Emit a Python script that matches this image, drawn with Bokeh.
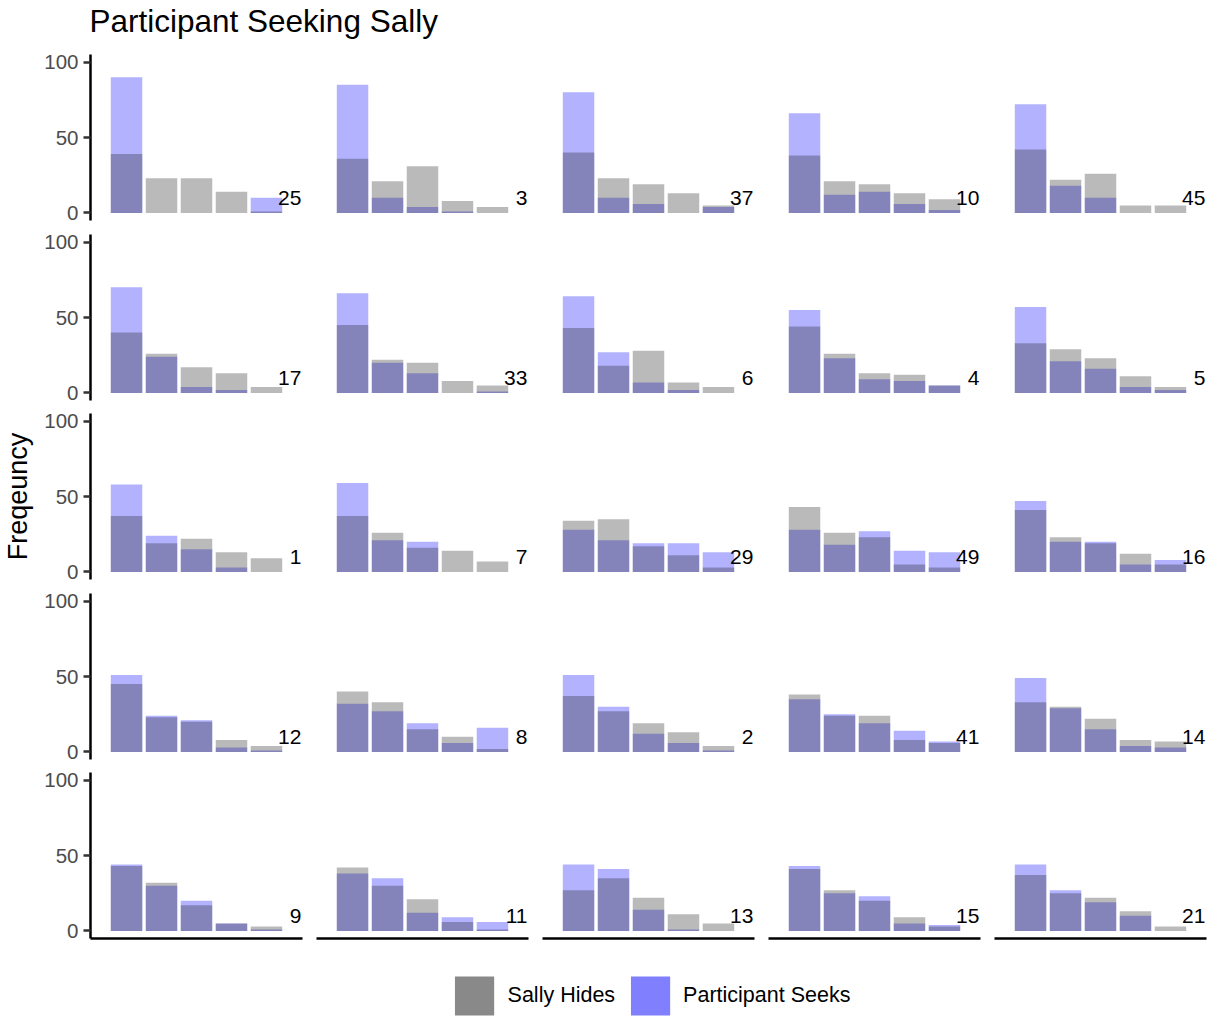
from bokeh.plotting import figure
from bokeh.layouts import gridplot, column
from bokeh.models import Range1d, FixedTicker, Legend, LegendItem
from bokeh.core.properties import value
from bokeh.embed import file_html
from bokeh.resources import INLINE

# ---------------- data ----------------
CHOICES = [1, 2, 3, 4, 5]
PANEL_IDS = [25, 3, 37, 10, 45,
             17, 33, 6, 4, 5,
             1, 7, 29, 49, 16,
             12, 8, 2, 41, 14,
             9, 11, 13, 15, 21]
SALLY_HIDES = [
    [39, 23, 23, 14, 1], [36, 21, 31, 8, 4], [40, 23, 19, 13, 5], [38, 21, 19, 13, 9], [42, 22, 26, 5, 5],
    [40, 26, 17, 13, 4], [45, 22, 20, 8, 5], [43, 18, 28, 7, 4], [44, 26, 13, 12, 5], [33, 29, 23, 11, 4],
    [37, 19, 22, 13, 9], [37, 26, 16, 14, 7], [34, 35, 17, 11, 3], [43, 26, 23, 5, 3], [41, 23, 19, 12, 5],
    [45, 23, 20, 8, 4], [40, 33, 15, 10, 2], [37, 27, 19, 13, 4], [38, 24, 24, 8, 6], [33, 30, 22, 8, 7],
    [43, 32, 17, 5, 3], [42, 30, 21, 6, 1], [27, 35, 22, 11, 5], [41, 27, 20, 9, 3], [37, 25, 22, 13, 3],
]
PARTICIPANT_SEEKS = [
    [90, 0, 0, 0, 10], [85, 10, 4, 1, 0], [80, 10, 6, 0, 4], [66, 12, 14, 6, 2], [72, 18, 10, 0, 0],
    [70, 24, 4, 2, 0], [66, 20, 13, 0, 1], [64, 27, 7, 2, 0], [55, 23, 9, 8, 5], [57, 21, 16, 4, 2],
    [58, 24, 15, 3, 0], [59, 21, 20, 0, 0], [28, 21, 19, 19, 13], [28, 18, 27, 14, 13], [47, 20, 20, 5, 8],
    [51, 24, 21, 3, 1], [32, 27, 19, 6, 16], [51, 30, 12, 6, 1], [35, 25, 19, 14, 7], [49, 29, 15, 4, 3],
    [44, 30, 20, 5, 1], [38, 35, 12, 9, 6], [44, 41, 14, 1, 0], [43, 25, 23, 5, 4], [44, 27, 19, 10, 0],
]
Y_TICKS = [0, 50, 100]
TITLE = "Participant Seeking Sally"
Y_LABEL = "Freqeuncy"
SERIES = ["Sally Hides", "Participant Seeks"]

# ---------------- style ----------------
FONT = "Liberation Sans"
NROW, NCOL = 5, 5
FRAME_W, FRAME_H = 212, 166
LEFT_BORDER = 90
H_GAP = 14
TOP_BORDER = 8
BOTTOM_BORDERS = [6, 5, 6, 5, 6]
BLUE = "#0000FF"
DARK = "#191919"
ALPHA = 0.3
LABEL_X, LABEL_Y = 6.0, 10

figs = []
for i in range(NROW * NCOL):
    r, c = divmod(i, NCOL)
    p = figure(
        frame_width=FRAME_W, frame_height=FRAME_H,
        x_range=Range1d(-0.03, 6.03), y_range=Range1d(-5, 105),
        output_backend="svg", toolbar_location=None,
        min_border_left=LEFT_BORDER if c == 0 else 0,
        min_border_right=H_GAP if c < NCOL - 1 else 3,
        min_border_top=TOP_BORDER,
        min_border_bottom=BOTTOM_BORDERS[r],
    )
    p.grid.visible = False
    p.outline_line_color = None
    p.background_fill_color = "white"
    p.border_fill_color = "white"

    p.vbar(x=CHOICES, top=PARTICIPANT_SEEKS[i], width=0.9, bottom=0,
           fill_color=BLUE, fill_alpha=ALPHA, line_color=None)
    p.vbar(x=CHOICES, top=SALLY_HIDES[i], width=0.9, bottom=0,
           fill_color=DARK, fill_alpha=ALPHA, line_color=None)
    p.text(x=[LABEL_X], y=[LABEL_Y], text=[str(PANEL_IDS[i])],
           text_align="right", text_baseline="middle",
           text_font=value(FONT), text_font_size="21px", text_color="black")

    if c == 0:
        ax = p.yaxis[0]
        ax.ticker = FixedTicker(ticks=Y_TICKS)
        ax.major_label_text_font = FONT
        ax.major_label_text_font_size = "20.5px"
        ax.major_label_text_color = "#4D4D4D"
        ax.major_label_standoff = 5
        ax.major_tick_out = 7
        ax.major_tick_in = 0
        ax.minor_tick_line_color = None
        ax.major_tick_line_color = "#333333"
        ax.major_tick_line_width = 2.5
        ax.axis_line_color = "black"
        ax.axis_line_width = 2.5
        if r == 2:
            ax.axis_label = Y_LABEL
            ax.axis_label_text_font = FONT
            ax.axis_label_text_font_size = "27px"
            ax.axis_label_text_font_style = "normal"
            ax.axis_label_text_color = "black"
            ax.axis_label_standoff = 8
    else:
        p.yaxis.visible = False

    if r == NROW - 1:
        xa = p.xaxis[0]
        xa.ticker = FixedTicker(ticks=[])
        xa.major_tick_line_color = None
        xa.minor_tick_line_color = None
        xa.major_label_text_font_size = "0px"
        xa.major_label_standoff = 0
        xa.major_tick_out = 0
        xa.axis_line_color = "black"
        xa.axis_line_width = 2.5
    else:
        p.xaxis.visible = False
    figs.append(p)

rows = [figs[k * NCOL:(k + 1) * NCOL] for k in range(NROW)]
grid = gridplot(rows, toolbar_location=None)

TOTAL_W = (LEFT_BORDER + FRAME_W + H_GAP) + (FRAME_W + H_GAP) * 3 + FRAME_W + 3

# title strip
pt = figure(width=TOTAL_W, height=46, output_backend="svg", toolbar_location=None,
            x_range=Range1d(0, 1), y_range=Range1d(0, 1),
            min_border_left=83, min_border_right=0, min_border_top=9, min_border_bottom=0)
pt.title.text = TITLE
pt.title.text_font = FONT
pt.title.text_font_size = "31.5px"
pt.title.text_font_style = "normal"
pt.title.text_color = "black"
pt.title.align = "left"
pt.title.offset = -2
pt.title.standoff = 0
pt.axis.visible = False
pt.grid.visible = False
pt.outline_line_color = None

# legend strip (key proxies sit outside the visible range)
pl = figure(width=TOTAL_W, height=76, output_backend="svg", toolbar_location=None,
            x_range=Range1d(0, 1), y_range=Range1d(0, 1),
            min_border_left=91, min_border_right=0, min_border_top=0, min_border_bottom=0)
pl.axis.visible = False
pl.grid.visible = False
pl.outline_line_color = None
r_gray = pl.quad(left=[-3], right=[-2], top=[-2], bottom=[-3], fill_color="#898989", line_color=None)
r_blue = pl.quad(left=[-3], right=[-2], top=[-2], bottom=[-3], fill_color="#8080FF", line_color=None)
legend = Legend(items=[LegendItem(label=SERIES[0], renderers=[r_gray]),
                       LegendItem(label=SERIES[1], renderers=[r_blue])],
                orientation="horizontal", location="bottom_center",
                glyph_width=49, glyph_height=49, label_standoff=9, spacing=10,
                padding=0, margin=0, border_line_color=None, background_fill_alpha=0,
                label_text_font=FONT, label_text_font_size="21.5px", label_text_color="black")
pl.add_layout(legend, "center")

layout = column(pt, grid, pl)
open("out.html", "w").write(file_html(layout, INLINE))
